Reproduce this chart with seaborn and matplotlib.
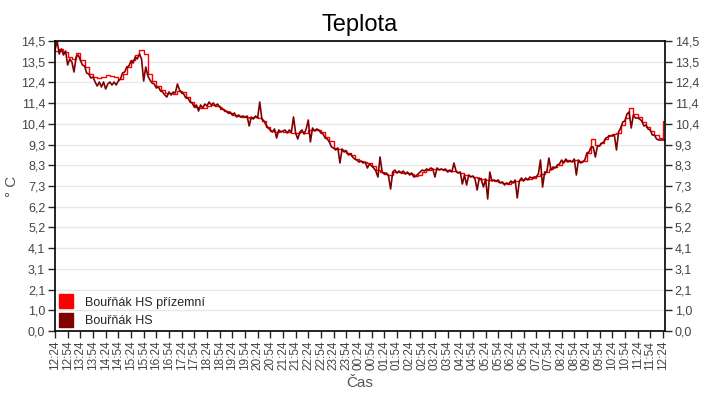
import matplotlib
matplotlib.use("Agg")
import matplotlib.pyplot as plt
import matplotlib.dates as mdates
from matplotlib.lines import Line2D
import seaborn as sns
import pandas as pd

# ---- data ----
start_time = "2024-01-01 12:24"
series_names = ["Bouřňák HS přízemní", "Bouřňák HS"]
series_colors = ["#FF0000", "#800000"]

# Bouřňák HS (5-minute readings)
hs_values = [
    14.05, 14.5, 13.85, 14.1, 13.8, 14.0, 13.3, 13.6, 13.45, 12.95,
    13.7, 13.8, 13.55, 13.3, 13.25, 12.9, 12.85, 12.65, 12.7, 12.45,
    12.25, 12.45, 12.2, 12.45, 12.1, 12.35, 12.45, 12.3, 12.45, 12.3,
    12.5, 12.6, 12.9, 12.95, 13.2, 13.25, 13.5, 13.4, 13.7, 13.6,
    13.85, 13.6, 12.5, 13.2, 12.75, 12.55, 12.4, 12.35, 12.15, 12.2,
    12.0, 11.95, 11.8, 11.7, 11.95, 11.8, 11.95, 11.9, 12.35, 12.05,
    11.9, 11.85, 11.65, 11.65, 11.45, 11.4, 11.2, 11.3, 11.0, 11.3,
    11.15, 11.35, 11.25, 11.45, 11.3, 11.4, 11.25, 11.35, 11.2, 11.15,
    11.05, 11.0, 10.9, 10.95, 10.8, 10.9, 10.7, 10.8, 10.7, 10.75,
    10.7, 10.75, 10.25, 10.7, 10.6, 10.75, 10.65, 11.45, 10.6, 10.5,
    10.3, 10.15, 10.05, 9.95, 10.1, 9.65, 10.05, 9.95, 10.0, 10.05,
    9.9, 10.05, 9.95, 10.7, 9.9, 9.6, 9.95, 10.05, 9.85, 10.1,
    10.55, 9.45, 10.15, 10.0, 10.1, 10.05, 9.9, 9.85, 9.65, 9.6,
    9.45, 9.2, 9.15, 9.05, 9.15, 8.4, 9.1, 8.95, 9.0, 8.8,
    8.85, 8.7, 8.6, 8.55, 8.45, 8.5, 8.4, 8.45, 8.15, 8.35,
    8.25, 8.15, 8.0, 7.7, 8.7, 7.95, 7.85, 7.9, 7.75, 7.1,
    7.95, 8.05, 7.9, 8.0, 7.9, 8.0, 7.85, 7.95, 7.8, 7.9,
    7.7, 7.75, 7.85, 7.95, 8.05, 8.0, 8.1, 8.05, 8.15, 8.1,
    7.7, 8.15, 8.05, 8.1, 8.05, 8.1, 7.95, 8.05, 7.95, 8.4,
    8.0, 7.9, 7.95, 7.35, 7.8, 7.3, 7.8, 7.7, 7.75, 7.6,
    7.05, 7.65, 7.55, 7.2, 7.6, 6.6, 7.95, 7.5, 7.55, 7.5,
    7.55, 7.4, 7.45, 7.3, 7.4, 7.35, 7.5, 7.4, 7.55, 6.65,
    7.5, 7.65, 7.5, 7.65, 7.55, 7.7, 7.65, 7.7, 7.7, 7.85,
    8.55, 7.2, 7.95, 7.95, 8.65, 8.05, 8.2, 8.15, 8.3, 8.35,
    8.55, 8.4, 8.6, 8.45, 8.5, 8.45, 8.6, 7.8, 8.55, 8.4,
    8.45, 8.55, 8.9, 8.95, 9.2, 9.2, 8.7, 9.25, 9.25, 9.4,
    9.45, 9.65, 9.7, 9.75, 9.75, 9.8, 9.05, 9.95, 10.15, 10.45,
    10.5, 10.85, 10.95, 10.15, 10.8, 10.65, 10.65, 10.6, 10.5, 10.25,
    10.3, 10.1, 10.05, 9.8, 9.8, 9.6, 9.55, 9.55, 9.55, 9.55,
]

# Bouřňák HS přízemní (10-minute readings)
ground_values = [
    14.0, 14.1, 13.95, 13.7, 13.6, 13.9, 13.55, 13.2, 12.85, 12.7,
    12.65, 12.7, 12.8, 12.75, 12.7, 12.6, 12.85, 13.2, 13.55, 13.8,
    14.05, 13.85, 12.85, 12.5, 12.25, 12.05, 11.9, 11.9, 11.85, 12.0,
    11.95, 11.7, 11.45, 11.2, 11.15, 11.15, 11.25, 11.3, 11.25, 11.1,
    11.0, 10.9, 10.8, 10.75, 10.7, 10.7, 10.65, 10.7, 10.65, 10.5,
    10.2, 10.0, 9.95, 10.0, 9.95, 9.95, 9.9, 9.9, 9.95, 9.9,
    10.05, 10.05, 10.05, 9.95, 9.7, 9.5, 9.15, 9.1, 9.05, 8.9,
    8.8, 8.6, 8.5, 8.45, 8.4, 8.25, 8.05, 7.95, 7.85, 7.8,
    7.95, 7.95, 7.9, 7.9, 7.85, 7.75, 7.8, 7.95, 8.05, 8.1,
    8.1, 8.1, 8.05, 8.0, 8.0, 7.95, 7.9, 7.8, 7.75, 7.7,
    7.65, 7.6, 7.55, 7.55, 7.5, 7.45, 7.4, 7.35, 7.45, 7.5,
    7.55, 7.6, 7.6, 7.65, 7.75, 7.85, 7.95, 8.1, 8.2, 8.3,
    8.5, 8.55, 8.5, 8.55, 8.5, 8.5, 8.9, 9.6, 9.3, 9.4,
    9.6, 9.8, 9.85, 9.9, 10.3, 10.65, 11.15, 10.85, 10.7, 10.45,
    10.2, 10.0, 9.8, 9.65, 10.5,
]

y_ticks = [0.0, 1.0357, 2.0714, 3.1071, 4.1429, 5.1786, 6.2143, 7.25,
           8.2857, 9.3214, 10.3571, 11.3929, 12.4286, 13.4643, 14.5]
y_tick_labels = ["0,0", "1,0", "2,1", "3,1", "4,1", "5,2", "6,2", "7,3",
                 "8,3", "9,3", "10,4", "11,4", "12,4", "13,5", "14,5"]

title = "Teplota"
x_label = "Čas"
y_label = "° C"

# ---- frames ----
df_hs = pd.DataFrame({
    "time": pd.date_range(start_time, periods=len(hs_values), freq="5min"),
    "value": hs_values,
})
df_ground = pd.DataFrame({
    "time": pd.date_range(start_time, periods=len(ground_values), freq="10min"),
    "value": ground_values,
})
x_ticks = pd.date_range(start_time, periods=49, freq="30min")

# ---- plot ----
sns.set_style("white")
plt.rcParams["font.family"] = ["Liberation Sans", "DejaVu Sans"]

fig = plt.figure(figsize=(7.2, 4.0), dpi=100)
ax = fig.add_axes([55 / 720, 69 / 400, 610 / 720, 290 / 400])

sns.lineplot(data=df_ground, x="time", y="value", ax=ax, color=series_colors[0],
             linewidth=1.0, drawstyle="steps-post")
sns.lineplot(data=df_hs, x="time", y="value", ax=ax, color=series_colors[1],
             linewidth=1.2)

ax.set_ylim(0, 14.5)
ax.set_xlim(df_hs["time"].iloc[0], df_hs["time"].iloc[-1])
ax.set_yticks(y_ticks)
ax.set_yticklabels(y_tick_labels)
ax.set_xticks(x_ticks)
ax.xaxis.set_major_formatter(mdates.DateFormatter("%H:%M"))
ax.tick_params(axis="x", rotation=90, labelsize=8.5, labelcolor="#444444",
               length=5, width=1, direction="out", bottom=True, pad=2)
ax.tick_params(axis="y", labelsize=9, labelcolor="#444444", length=5,
               width=1, direction="out", left=True, pad=2)
ax.yaxis.grid(True, color="#e8e8e8", linewidth=1)
ax.xaxis.grid(False)
ax.set_axisbelow(True)
for sp in ax.spines.values():
    sp.set_color("black")
    sp.set_linewidth(1.2)

ax.set_xlabel(x_label, fontsize=11, color="#555555", labelpad=4)
ax.set_ylabel(y_label, fontsize=11, color="#555555")
ax.yaxis.set_label_coords(-36 / 610, 0.5)
ax.set_title(title, fontsize=17, color="black", pad=7)

ax2 = ax.twinx()
ax2.set_ylim(0, 14.5)
ax2.set_yticks(y_ticks)
ax2.set_yticklabels(y_tick_labels)
ax2.tick_params(axis="y", labelsize=9, labelcolor="#444444", length=5,
                width=1, direction="out", right=True, pad=2)
for sp in ax2.spines.values():
    sp.set_visible(False)

handles = [Line2D([0], [0], marker="s", linestyle="none", markersize=10.5,
                  markerfacecolor=c, markeredgecolor=c) for c in series_colors]
ax.legend(handles, series_names, loc="lower left", frameon=False, fontsize=9,
          handlelength=1.0, handletextpad=1.0, labelspacing=0.55,
          borderaxespad=0.0, bbox_to_anchor=(0.0, -0.005))

fig.savefig("out.png", dpi=100)
